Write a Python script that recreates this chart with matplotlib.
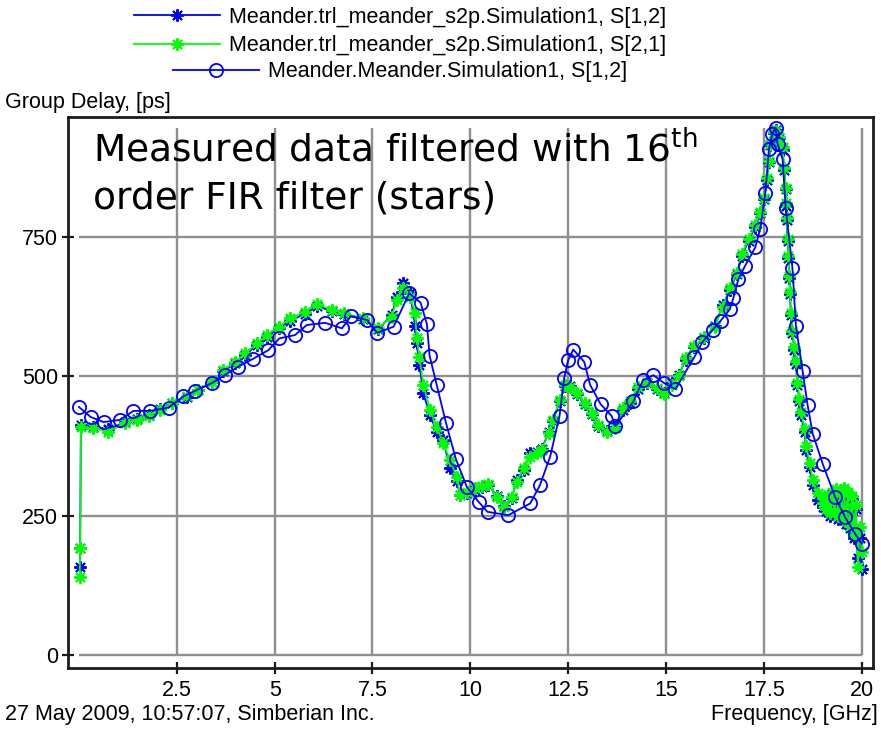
import matplotlib
matplotlib.use("Agg")
import matplotlib.pyplot as plt

# ---- data -----------------------------------------------------------------
# TRL de-embedded measurement (FIR-filtered), common frequency grid, GHz
freq_trl = [0.02, 0.03, 0.05, 0.37, 0.75, 1.18, 1.48, 1.78, 2.08, 2.37,
            2.76, 3.05, 3.40, 3.69, 3.99, 4.25, 4.55, 4.80, 5.10, 5.40,
            5.78, 6.08, 6.46, 6.76, 7.27, 7.65, 7.99, 8.12, 8.29, 8.46,
            8.59, 8.63, 8.70, 8.80, 8.97, 9.14, 9.31, 9.48, 9.65, 9.74,
            9.92, 10.12, 10.30, 10.46, 10.68, 10.85, 11.06, 11.19, 11.36, 11.53,
            11.70, 11.83, 12.00, 12.12, 12.28, 12.42, 12.55, 12.72, 12.93, 13.10,
            13.27, 13.49, 13.70, 13.91, 14.08, 14.29, 14.51, 14.76, 14.94, 15.15,
            15.33, 15.50, 15.72, 15.98, 16.24, 16.46, 16.63, 16.81, 16.94, 17.11,
            17.28, 17.41, 17.50, 17.59, 17.63, 17.67, 17.76, 17.82, 17.89, 17.98,
            18.02, 18.06, 18.07, 18.08, 18.11, 18.13, 18.15, 18.17, 18.19, 18.23,
            18.28, 18.32, 18.36, 18.41, 18.45, 18.54, 18.58, 18.67, 18.75, 18.88,
            19.01, 19.05, 19.10, 19.15, 19.20, 19.25, 19.30, 19.35, 19.40, 19.45,
            19.50, 19.55, 19.60, 19.65, 19.70, 19.75, 19.80, 19.85, 19.90, 19.95,
            20.00]

# group delay, ps : S[1,2]
gd_trl_s12 = [158, 192, 412, 410, 405, 418, 424, 430, 441, 452,
              463, 476, 489, 509, 524, 539, 556, 571, 586, 600,
              612, 626, 617, 611, 602, 584, 610, 642, 668, 650,
              590, 560, 520, 470, 430, 400, 385, 335, 312, 287,
              290, 296, 302, 305, 286, 268, 282, 314, 332, 362,
              365, 370, 400, 420, 455, 482, 482, 468, 450, 432,
              411, 402, 410, 440, 452, 478, 488, 478, 470, 488,
              502, 530, 552, 568, 590, 628, 655, 683, 716, 743,
              768, 792, 818, 852, 884, 915, 936, 942, 928, 905,
              870, 835, 806, 780, 742, 712, 676, 648, 610, 578,
              548, 522, 484, 455, 430, 400, 368, 338, 306, 278,
              265, 280, 258, 285, 250, 288, 262, 290, 245, 285,
              258, 296, 236, 288, 228, 280, 210, 262, 175, 210,
              155]

# group delay, ps : S[2,1]
gd_trl_s21 = [140, 192, 410, 407, 401, 416, 422, 428, 440, 452,
              464, 476, 490, 511, 526, 541, 559, 574, 589, 604,
              616, 630, 619, 613, 604, 586, 607, 637, 658, 643,
              613, 568, 535, 485, 440, 410, 380, 350, 320, 287,
              292, 299, 303, 307, 284, 266, 284, 311, 335, 356,
              362, 368, 398, 422, 458, 485, 480, 470, 452, 434,
              413, 401, 407, 443, 455, 481, 490, 479, 469, 485,
              500, 533, 555, 570, 588, 625, 658, 686, 719, 746,
              771, 795, 820, 856, 886, 917, 938, 940, 929, 911,
              874, 838, 810, 783, 747, 716, 680, 651, 613, 582,
              552, 528, 488, 460, 436, 406, 375, 345, 314, 290,
              272, 285, 262, 280, 255, 292, 258, 298, 250, 290,
              262, 300, 240, 292, 232, 285, 215, 270, 158, 230,
              185]

# full-wave simulation, GHz / ps
freq_sim = [0.00, 0.30, 0.63, 1.05, 1.39, 1.82, 2.29, 2.67, 2.97, 3.40,
            3.72, 4.06, 4.44, 4.84, 5.12, 5.52, 5.82, 6.29, 6.72, 6.95,
            7.36, 7.62, 8.04, 8.44, 8.73, 8.89, 8.96, 9.14, 9.38, 9.63,
            9.91, 10.21, 10.44, 10.97, 11.53, 11.78, 12.04, 12.28, 12.40, 12.50,
            12.63, 12.91, 13.06, 13.33, 13.61, 13.71, 14.17, 14.41, 14.68, 14.95,
            15.24, 15.72, 15.93, 16.19, 16.40, 16.63, 16.72, 16.85, 17.02, 17.28,
            17.41, 17.54, 17.63, 17.72, 17.80, 17.85, 17.98, 18.06, 18.23, 18.32,
            18.49, 18.62, 18.75, 19.01, 19.32, 19.58, 19.84, 20.00]
gd_sim_s12 = [445, 427, 418, 422, 438, 438, 444, 464, 474, 488,
              502, 517, 531, 547, 568, 574, 592, 596, 586, 608,
              601, 578, 589, 649, 632, 594, 537, 485, 416, 352,
              302, 275, 257, 251, 272, 305, 356, 429, 497, 529,
              548, 526, 485, 450, 429, 411, 455, 493, 502, 488,
              477, 534, 561, 583, 600, 620, 640, 674, 698, 731,
              765, 829, 907, 935, 946, 917, 889, 801, 695, 591,
              510, 448, 397, 342, 284, 247, 217, 200]

x_ticks = [2.5, 5, 7.5, 10, 12.5, 15, 17.5, 20]
x_tick_labels = ["2.5", "5", "7.5", "10", "12.5", "15", "17.5", "20"]
y_ticks = [0, 250, 500, 750]
y_tick_labels = ["0", "250", "500", "750"]

series_labels = ["Meander.trl_meander_s2p.Simulation1, S[1,2]",
                 "Meander.trl_meander_s2p.Simulation1, S[2,1]",
                 "Meander.Meander.Simulation1, S[1,2]"]

# ---- style ----------------------------------------------------------------
BLUE = "#0000ff"
GREEN = "#00ff00"
FRAME = "#1c1c1c"
GRID = "#8f8f8f"
UI_FONT = ["Liberation Sans", "DejaVu Sans"]
UI_SIZE = 15.5
STAR = (8, 2, 0)

W, H = 881, 729
fig = plt.figure(figsize=(W / 100, H / 100), dpi=100)
fig.patch.set_facecolor("white")

ax = fig.add_axes([68 / W, 1 - 668 / H, (873 - 68) / W, (668 - 117) / H])
ax.set_xlim(-0.28, 20.29)
ax.set_ylim(-23, 965)

# grid only spans the data area, inset from the frame
ax.vlines(x_ticks, 0, 945, colors=GRID, lw=1.7, zorder=0)
ax.hlines(y_ticks, 0, 20, colors=GRID, lw=1.7, zorder=0)

for s in ax.spines.values():
    s.set_linewidth(2.0)
    s.set_color(FRAME)

ax.set_xticks(x_ticks)
ax.set_xticklabels(x_tick_labels)
ax.set_yticks(y_ticks)
ax.set_yticklabels(y_tick_labels)
ax.tick_params(direction="inout", length=8.4, width=1.6, color=FRAME,
               labelsize=UI_SIZE, labelcolor="black")
ax.tick_params(axis="x", pad=4.5)
ax.tick_params(axis="y", pad=3.0)
for lab in ax.get_xticklabels() + ax.get_yticklabels():
    lab.set_family(UI_FONT)

h1, = ax.plot(freq_trl, gd_trl_s12, color=BLUE, lw=1.3, marker=STAR,
              ms=9, mew=1.4, zorder=3)
h2, = ax.plot(freq_trl, gd_trl_s21, color=GREEN, lw=1.3, marker=STAR,
              ms=9, mew=1.4, zorder=4)
h3, = ax.plot(freq_sim, gd_sim_s12, color=BLUE, lw=1.3, marker="o",
              ms=9.5, mfc="none", mew=1.3, zorder=5)

# legend: one centred row per series above the plot
for handle, label, yc in zip([h1, h2, h3], series_labels, [17, 46, 72]):
    fig.legend([handle], [label], loc="center",
               bbox_to_anchor=(400 / W, 1 - yc / H), frameon=False,
               handlelength=4.0, handletextpad=0.45, borderpad=0,
               borderaxespad=0, numpoints=1,
               prop={"family": UI_FONT, "size": UI_SIZE})

# axis captions
fig.text(5 / W, 1 - 108 / H, "Group Delay, [ps]", ha="left", va="baseline",
         family=UI_FONT, size=UI_SIZE)
fig.text(5 / W, 1 - 720 / H, "27 May 2009, 10:57:07, Simberian Inc.",
         ha="left", va="baseline", family=UI_FONT, size=UI_SIZE)
fig.text(878 / W, 1 - 720 / H, "Frequency, [GHz]", ha="right",
         va="baseline", family=UI_FONT, size=UI_SIZE)

# in-plot note
fig.text(93 / W, 1 - 162 / H, r"Measured data filtered with 16$^{\mathrm{th}}$",
         ha="left", va="baseline", family="DejaVu Sans", size=27)
fig.text(93 / W, 1 - 208 / H, "order FIR filter (stars)",
         ha="left", va="baseline", family="DejaVu Sans", size=27)

fig.savefig("out.png", dpi=100, facecolor="white")
